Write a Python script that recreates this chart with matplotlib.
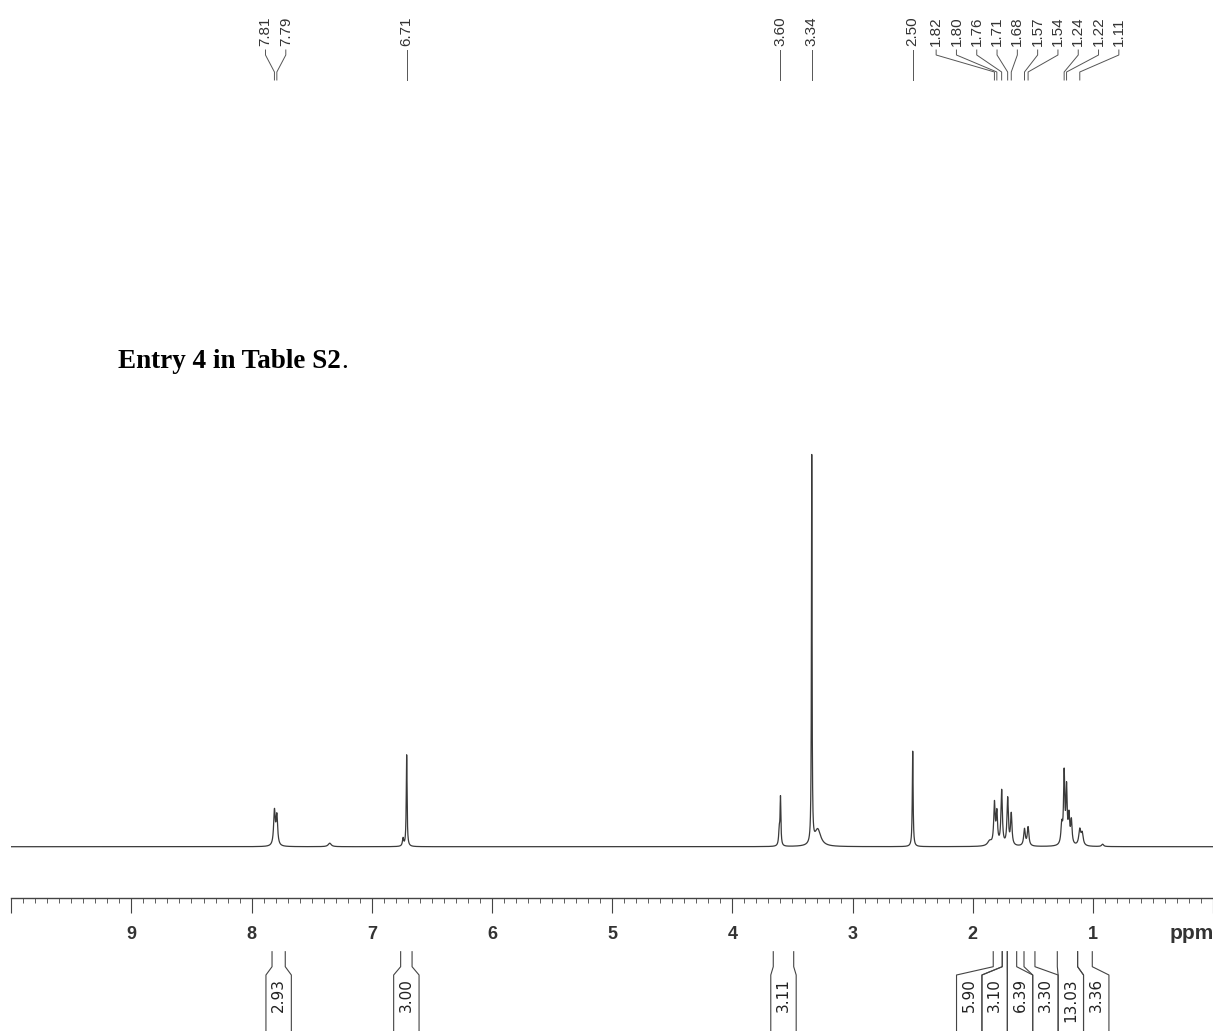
import numpy as np
import matplotlib
matplotlib.use('Agg')
import matplotlib.pyplot as plt
from matplotlib.transforms import blended_transform_factory
from matplotlib.ticker import MultipleLocator, FuncFormatter

# spectrum lines: position (ppm), height (3.34 peak = 100), half width (ppm)
peak_ppm = [7.81, 7.79, 7.35, 6.74, 6.71, 3.61, 3.60, 3.34, 3.29, 2.50,
            1.86, 1.82, 1.80, 1.76, 1.71, 1.68, 1.57, 1.54,
            1.26, 1.24, 1.22, 1.20, 1.18, 1.11, 1.09, 0.92]
peak_height = [8.8, 7.5, 0.9, 2.0, 23.5, 4.0, 12.0, 99.5, 4.3, 24.5,
               1.2, 10.5, 8.0, 14.0, 12.0, 8.0, 4.3, 4.8,
               5.0, 18.0, 14.0, 7.0, 6.0, 4.0, 3.0, 0.6]
peak_hw = [0.008, 0.008, 0.015, 0.006, 0.004, 0.006, 0.004, 0.003, 0.03, 0.004,
           0.02, 0.007, 0.007, 0.007, 0.007, 0.007, 0.008, 0.008,
           0.008, 0.006, 0.006, 0.007, 0.007, 0.01, 0.01, 0.01]

# peak picking labels
label_ppm = [7.81, 7.79, 6.71, 3.60, 3.34, 2.50, 1.82, 1.80, 1.76, 1.71,
             1.68, 1.57, 1.54, 1.24, 1.22, 1.11]

# integrals
int_from = [7.83, 6.76, 3.66, 1.83, 1.755, 1.713, 1.574, 1.297, 1.128]
int_to = [7.72, 6.665, 3.49, 1.755, 1.713, 1.635, 1.483, 1.128, 1.006]
int_value = ['2.93', '3.00', '3.11', '5.90', '3.10', '6.39', '3.30', '13.03', '3.36']

W, H = 1213, 1031
X0, PX = 11.2, 120.2   # pixel of 10 ppm, pixels per ppm


def to_px(ppm):
    return X0 + (10 - np.asarray(ppm, dtype=float)) * PX


def to_ppm(px):
    return 10 - (np.asarray(px, dtype=float) - X0) / PX


def fy(py):
    return 1 - py / H


def spread(centers, gap):
    # push crowded labels apart, keeping each group centred on its peaks
    order = np.argsort(centers)
    c = np.asarray(centers, dtype=float)[order]
    groups = [[v] for v in c]
    while True:
        pos = []
        for g in groups:
            m = np.mean(g)
            pos.append([m + (i - (len(g) - 1) / 2) * gap for i in range(len(g))])
        merged = False
        for i in range(len(groups) - 1):
            if pos[i + 1][0] - pos[i][-1] < gap - 1e-9:
                groups[i] = groups[i] + groups[i + 1]
                del groups[i + 1]
                merged = True
                break
        if not merged:
            break
    out = np.empty(len(c))
    out[order] = np.concatenate(pos)
    return out


fig = plt.figure(figsize=(W / 100, H / 100), dpi=100)
ax = fig.add_axes([X0 / W, 133 / H, 10 * PX / W, 458 / H])

x = np.linspace(10, 0, 20001)
y = np.zeros_like(x)
for p, h, w in zip(peak_ppm, peak_height, peak_hw):
    y += h * w ** 2 / ((x - p) ** 2 + w ** 2)
ax.plot(x, y, color='#3a3a3a', lw=0.9)

ax.set_xlim(10, 0)
ax.set_ylim(-13.16, 104.36)
for s in ['top', 'left', 'right']:
    ax.spines[s].set_visible(False)
ax.spines['bottom'].set_color('#444444')
ax.spines['bottom'].set_linewidth(1.0)
ax.set_yticks([])
ax.xaxis.set_major_locator(MultipleLocator(1))
ax.xaxis.set_minor_locator(MultipleLocator(0.1))
ax.xaxis.set_major_formatter(FuncFormatter(lambda v, pos: '' if v > 9.5 or v < 0.5 else '%d' % round(v)))
ax.tick_params(axis='x', which='major', length=10.5, width=0.8, color='#444444', pad=10,
               labelsize=13, labelcolor='#333333')
ax.tick_params(axis='x', which='minor', length=3.6, width=0.6, color='#444444')
for t in ax.get_xticklabels():
    t.set_fontfamily('Liberation Sans')
    t.set_fontweight('bold')

fig.text(1170 / W, fy(924), 'ppm', fontfamily='Liberation Sans', fontweight='bold',
         fontsize=15, color='#333333', va='top', ha='left')

trans = blended_transform_factory(ax.transData, fig.transFigure)

# peak labels at the top
lab_px = spread(to_px(label_ppm), 20.3)
for p, lx in zip(label_ppm, lab_px):
    lp = to_ppm(lx)
    ax.plot([lp, lp, p, p], [fy(50), fy(55), fy(72), fy(80)], transform=trans,
            color='#555555', lw=0.7, clip_on=False)
    ax.text(lp, fy(46), '%.2f' % p, transform=trans, rotation=90, ha='center', va='bottom',
            fontfamily='Liberation Sans', fontsize=11, color='#333333')

# integral brackets under the axis
box_w = 25.4
mid_px = (to_px(int_from) + to_px(int_to)) / 2
box_px = spread(mid_px, box_w)
for a, b, v, bx in zip(int_from, int_to, int_value, box_px):
    bl = to_ppm(bx - box_w / 2)
    br = to_ppm(bx + box_w / 2)
    for edge, box_edge in [(a, bl), (b, br)]:
        ax.plot([edge, edge, box_edge, box_edge], [fy(951.7), fy(966.7), fy(975), fy(1040)],
                transform=trans, color='#444444', lw=0.8, clip_on=False)
    ax.text(to_ppm(bx), fy(978), v, transform=trans, rotation=90, ha='center', va='top',
            fontfamily='DejaVu Sans', fontsize=11, color='#222222')

# caption
t1 = fig.text(118 / W, fy(368), 'Entry 4 in Table S2', fontfamily='Liberation Serif',
              fontweight='bold', fontsize=19.5, va='baseline', ha='left', color='black')
fig.canvas.draw()
bb = t1.get_window_extent()
fig.text(bb.x1 / W, fy(368), '.', fontfamily='Liberation Serif', fontsize=19.5,
         va='baseline', ha='left', color='black')

fig.savefig('out.png', dpi=100)
